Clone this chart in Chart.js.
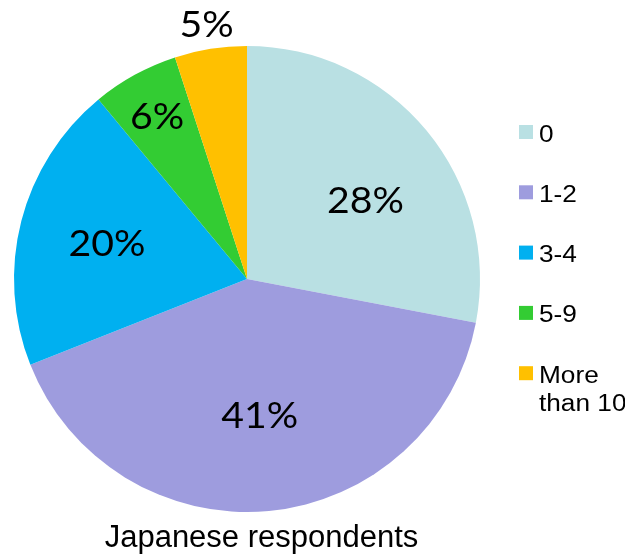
<!DOCTYPE html>
<html>
<head>
<meta charset="utf-8">
<script src="https://cdn.jsdelivr.net/npm/chart.js@4.4.1/dist/chart.umd.min.js"></script>
<style>
  html, body { margin: 0; padding: 0; background: #ffffff; }
  #grafico { display: block; }
</style>
</head>
<body>
<canvas id="grafico" width="625" height="555"></canvas>
<script>
// Datos de la encuesta: número de respuestas por categoría (en %)
const categorias = ['0', '1-2', '3-4', '5-9', 'More than 10'];
const porcentajes = [28, 41, 20, 6, 5];
const colores = ['#B9E0E3', '#9E9CDE', '#00B0F0', '#33CC33', '#FFC000'];
const tituloGrafico = 'Japanese respondents';

// Colocación de las etiquetas: fracción del radio y giro extra (grados)
const etiquetaRadio = [0.61, 0.585, 0.62, 0.8, 1.11];
const etiquetaGiro = [6, 0, 0, 0, 0];

// Etiquetas de porcentaje sobre cada sector
const etiquetasPlugin = {
    id: 'etiquetasPorcentaje',
    afterDatasetsDraw(chart) {
        const ctx = chart.ctx;
        const arcos = chart.getDatasetMeta(0).data;
        ctx.save();
        ctx.fillStyle = '#000000';
        ctx.font = '37px Lato, "Open Sans", sans-serif';
        ctx.textAlign = 'center';
        ctx.textBaseline = 'alphabetic';
        arcos.forEach((arco, i) => {
            const p = arco.getProps(['x', 'y', 'startAngle', 'endAngle', 'outerRadius'], true);
            const medio = (p.startAngle + p.endAngle) / 2 + etiquetaGiro[i] * Math.PI / 180;
            const r = p.outerRadius * etiquetaRadio[i];
            const x = p.x + Math.cos(medio) * r;
            const y = p.y + Math.sin(medio) * r;
            ctx.save();
            ctx.translate(x, y + 13);
            ctx.scale(1.06, 1);
            ctx.fillText(porcentajes[i] + '%', 0, 0);
            ctx.restore();
        });
        ctx.restore();
    }
};

// Leyenda a la derecha y título al pie
const leyendaPlugin = {
    id: 'leyendaLateral',
    afterDraw(chart) {
        const ctx = chart.ctx;
        const x0 = 519;
        const y0 = 132;
        const paso = 60.3;
        ctx.save();
        categorias.forEach((cat, i) => {
            const cy = y0 + i * paso;
            ctx.fillStyle = colores[i];
            ctx.fillRect(x0, cy - 7, 14, 14);
            ctx.fillStyle = '#000000';
            ctx.font = '23px "Liberation Sans", Arial, sans-serif';
            const lineas = cat === 'More than 10' ? ['More', 'than 10'] : [cat];
            lineas.forEach((linea, j) => {
                ctx.save();
                ctx.translate(x0 + 20, cy + 9.5 + j * 28);
                ctx.scale(1.14, 1);
                ctx.fillText(linea, 0, 0);
                ctx.restore();
            });
        });

        ctx.font = '31px "Liberation Sans", Arial, sans-serif';
        ctx.textAlign = 'center';
        ctx.fillText(tituloGrafico, 261.5, 547);
        ctx.restore();
    }
};

new Chart(document.getElementById('grafico'), {
    type: 'pie',
    data: {
        labels: categorias,
        datasets: [{
            data: porcentajes,
            backgroundColor: colores,
            borderWidth: 0
        }]
    },
    options: {
        responsive: false,
        animation: false,
        layout: {
            padding: { left: 14, right: 145, top: 46, bottom: 43 }
        },
        plugins: {
            legend: { display: false },
            title: { display: false },
            tooltip: { enabled: false }
        }
    },
    plugins: [etiquetasPlugin, leyendaPlugin]
});
</script>
</body>
</html>
